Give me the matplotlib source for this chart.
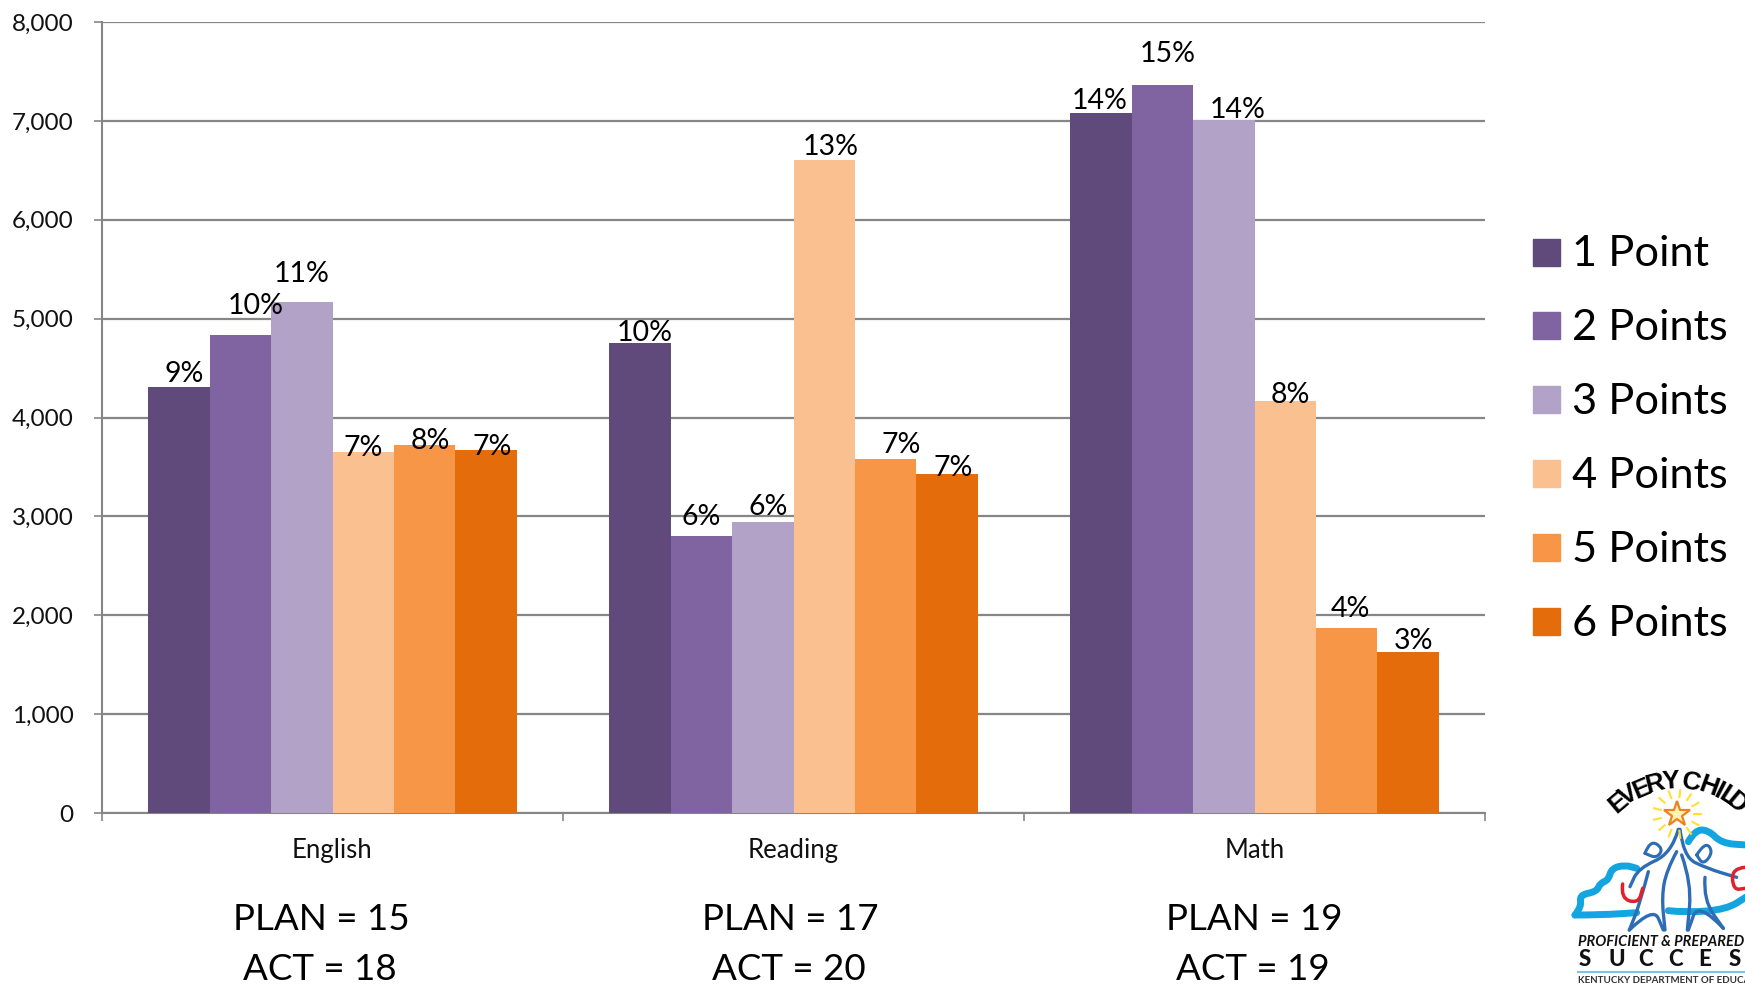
import numpy as np
import matplotlib
matplotlib.use("Agg")
import matplotlib.pyplot as plt
from matplotlib.patches import Rectangle, PathPatch
from matplotlib.path import Path

categories = ["English", "Reading", "Math"]
series_names = ["1 Point", "2 Points", "3 Points", "4 Points", "5 Points", "6 Points"]
one_point = [4310, 4750, 7080]
two_points = [4830, 2800, 7360]
three_points = [5170, 2940, 7010]
four_points = [3650, 6600, 4170]
five_points = [3720, 3580, 1870]
six_points = [3670, 3430, 1630]
pct_one = ["9%", "10%", "14%"]
pct_two = ["10%", "6%", "15%"]
pct_three = ["11%", "6%", "14%"]
pct_four = ["7%", "13%", "8%"]
pct_five = ["8%", "7%", "4%"]
pct_six = ["7%", "7%", "3%"]
plan_scores = [15, 17, 19]
act_scores = [18, 20, 19]
yticks = [0, 1000, 2000, 3000, 4000, 5000, 6000, 7000, 8000]

colors = ["#604A7B", "#8064A2", "#B3A2C7", "#FAC090", "#F79646", "#E46C0A"]
# label placement relative to each bar, in pixels (series by category)
lifts = [[-2, -5, -3], [14, 4, 16], [13, 0, -5], [-11, -2, -9], [-11, -1, 4], [-12, -9, -4]]
nudges = [[5, 5, -1], [15, 0, 5], [0, 5, 14], [0, 6, 5], [6, 15, 4], [6, 6, 5]]

W, H = 1745, 985
plt.rcParams["font.family"] = ["Lato", "DejaVu Sans"]
fig = plt.figure(figsize=(W / 100, H / 100), dpi=100, facecolor="white")
L, R, T, B = 102, 1485, 22, 813
ax = fig.add_axes([L / W, 1 - B / H, (R - L) / W, (B - T) / H])

all_vals = [one_point, two_points, three_points, four_points, five_points, six_points]
all_pct = [pct_one, pct_two, pct_three, pct_four, pct_five, pct_six]
bw = 1 / 7.5
x = np.arange(len(categories))
for i, (vals, pcts) in enumerate(zip(all_vals, all_pct)):
    pos = x + (i - 2.5) * bw
    ax.bar(pos, vals, width=bw, color=colors[i], zorder=3, edgecolor="none")
    for px_, v, p, lift, nudge in zip(pos, vals, pcts, lifts[i], nudges[i]):
        ax.annotate(p, (px_, v), xytext=(nudge * 0.72, (lift + 2) * 0.72), textcoords="offset points",
                    ha="center", va="bottom", fontsize=20.5, color="black", zorder=5)

ax.set_xlim(-0.5, 2.5)
ax.set_ylim(0, 8000)
ax.set_yticks(yticks)
ax.set_yticklabels([f"{v:,}" for v in yticks], fontsize=17.5, color="#111111")
ax.yaxis.grid(True, color="#868686", lw=1.6, zorder=1)
ax.set_axisbelow(True)
ax.set_xticks([-0.5, 0.5, 1.5, 2.5])
ax.set_xticklabels([])
ax.set_xticks(x, minor=True)
ax.set_xticklabels(categories, minor=True, fontsize=18.5, color="#111111")
ax.tick_params(axis="x", which="minor", length=0, pad=18)
ax.tick_params(axis="x", which="major", length=6, width=1.2, color="#868686")
ax.tick_params(axis="y", length=6, width=1.2, color="#868686", pad=14.5)
for s in ("top", "right"):
    ax.spines[s].set_visible(False)
for s in ("left", "bottom"):
    ax.spines[s].set_color("#868686")
    ax.spines[s].set_linewidth(1.5)

# pixel-space overlay for legend, score notes and logo
ov = fig.add_axes([0, 0, 1, 1], facecolor="none")
ov.set_xlim(0, W)
ov.set_ylim(H, 0)
ov.axis("off")

for i, name in enumerate(series_names):
    yc = 252 + i * 73.8
    ov.add_patch(Rectangle((1533, yc - 13.5), 27, 27, color=colors[i]))
    ov.text(1572, yc - 1, name, fontsize=31.2, va="center_baseline", ha="left", color="black")

for cx, plan, act in zip([321, 790, 1254], plan_scores, act_scores):
    ov.text(cx, 919, f"PLAN = {plan}", fontsize=26.5, ha="center", va="center", color="black")
    ov.text(cx - 1, 969, f"ACT = {act}", fontsize=26.5, ha="center", va="center", color="black")

# logo
def z(zx, zy):
    return 1500 + zx / 3, 740 + zy / 3

def curve(pts, color, lw):
    p = [z(*q) for q in pts]
    verts = [p[0]]
    codes = [Path.MOVETO]
    for i in range(1, len(p) - 1):
        verts += [p[i], ((p[i][0] + p[i + 1][0]) / 2, (p[i][1] + p[i + 1][1]) / 2)]
        codes += [Path.CURVE3, Path.CURVE3]
    verts.append(p[-1])
    codes.append(Path.LINETO)
    ov.add_patch(PathPatch(Path(verts, codes), fc="none", ec=color, lw=lw, capstyle="round", joinstyle="round"))

sky = "#12A5E0"
blue = "#2E6DB5"
curve([(225, 525), (245, 500), (238, 465), (290, 455), (300, 430), (325, 420), (335, 385), (375, 375), (410, 385)], sky, 5)
curve([(225, 525), (300, 525), (410, 518)], sky, 5)
curve([(505, 512), (560, 518), (680, 508), (740, 470)], sky, 5)
curve([(565, 305), (585, 270), (625, 270), (665, 310), (740, 315)], sky, 5)
curve([(435, 340), (450, 300), (490, 325), (470, 355), (435, 340)], blue, 2.2)
curve([(590, 345), (615, 305), (640, 335), (610, 375), (590, 345)], blue, 2.2)
curve([(535, 268), (515, 340), (415, 385), (390, 440)], blue, 2.4)
curve([(530, 335), (500, 390), (485, 470), (495, 570)], blue, 2.4)
curve([(445, 395), (420, 490), (388, 570)], blue, 2.4)
curve([(388, 570), (460, 500), (490, 570)], blue, 2.4)
curve([(540, 268), (550, 350), (620, 385), (710, 412)], blue, 2.4)
curve([(545, 345), (575, 430), (562, 570)], blue, 2.4)
curve([(615, 412), (610, 480), (670, 565)], blue, 2.4)
curve([(670, 565), (595, 485), (565, 570)], blue, 2.4)
curve([(368, 432), (362, 475), (415, 490), (428, 445)], "#E0202C", 2.5)
curve([(735, 382), (695, 385), (700, 450), (735, 445)], "#E0202C", 2.5)

sx, sy = z(532, 222)
ov.plot([sx], [sy], marker="*", ms=19, mfc="#FFF3B0", mec="#F08020", mew=1.6)
for ang in np.arange(0, 360, 27.7):
    a = np.radians(ang)
    ov.plot([sx + 17 * np.cos(a), sx + 24 * np.cos(a)],
            [sy + 17 * np.sin(a), sy + 24 * np.sin(a)], color="#FFE030", lw=1.5)

cx0, cy0 = z(532, 400)
for ch, ang in zip("EVERYCHILD", [-40, -32, -23, -14, -4, 9, 20, 27, 33, 40]):
    a = np.radians(ang)
    ov.text(cx0 + 92 * np.sin(a), cy0 - 92 * np.cos(a), ch, rotation=-ang, fontsize=19,
            fontweight="black", ha="center", va="center", color="black",
            rotation_mode="anchor", family=["Liberation Sans Narrow", "Liberation Sans"])

lx, _ = z(235, 0)
ov.text(lx, z(0, 606)[1], "PROFICIENT & PREPARED FOR", fontsize=10.5, fontweight="bold", style="italic",
        va="center", ha="left", color="#111111")
for k, ch in enumerate("SUCCESS"):
    ov.text(lx + k * 30, z(0, 660)[1], ch, fontsize=16, fontweight="black", va="center", ha="left",
            color="#111111")
ov.plot([lx, W], [z(0, 696)[1]] * 2, color="#7CC4E8", lw=1.5)
ov.text(lx, z(0, 722)[1], "KENTUCKY DEPARTMENT OF EDUCATION", fontsize=7, fontweight="bold",
        va="center", ha="left", color="#333333")

fig.savefig("out.png", dpi=100, facecolor="white")
